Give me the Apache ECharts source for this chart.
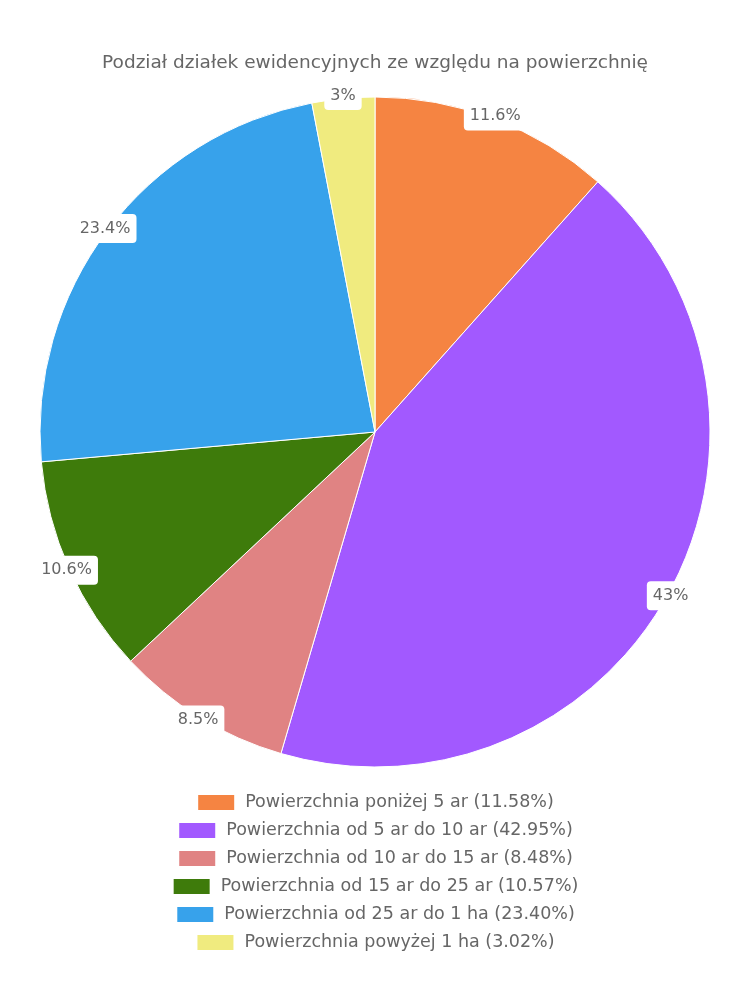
<!DOCTYPE html>
<html>
<head>
<meta charset="utf-8">
<script src="https://cdn.jsdelivr.net/npm/echarts@6/dist/echarts.min.js"></script>
<style>html,body{margin:0;padding:0;background:#fff}#c{width:750px;height:1000px}</style>
</head>
<body>
<div id="c"></div>
<script>
const title = 'Podział działek ewidencyjnych ze względu na powierzchnię';
const categories = [
  'Powierzchnia poniżej 5 ar',
  'Powierzchnia od 5 ar do 10 ar',
  'Powierzchnia od 10 ar do 15 ar',
  'Powierzchnia od 15 ar do 25 ar',
  'Powierzchnia od 25 ar do 1 ha',
  'Powierzchnia powyżej 1 ha'
];
const values = [11.58, 42.95, 8.48, 10.57, 23.40, 3.02];
const colors = ['#F58442', '#A259FF', '#E08383', '#3E7B0B', '#37A2EB', '#F0EB7F'];

const FONT = 'DejaVu Sans';
const total = values.reduce((a, b) => a + b, 0);
const data = categories.map((n, i) => ({ name: n, value: values[i], itemStyle: { color: colors[i] } }));

const legends = categories.map((n, i) => ({
  data: [n],
  left: 'center',
  top: 788 + 28 * i,
  orient: 'horizontal',
  icon: 'rect',
  itemWidth: 38,
  itemHeight: 17,
  itemGap: 0,
  textStyle: { fontFamily: FONT, fontSize: 17.5, color: '#666', padding: [0, 0, 0, 5] },
  formatter: name => name + ' (' + (values[categories.indexOf(name)] / total * 100).toFixed(2) + '%)'
}));

const chart = echarts.init(document.getElementById('c'), null, { renderer: 'canvas' });
chart.setOption({
  animation: false,
  title: {
    text: title,
    left: 'center',
    top: 49,
    textStyle: { fontFamily: FONT, fontSize: 18.5, fontWeight: 'normal', color: '#666' }
  },
  legend: legends,
  series: [
    {
      type: 'pie',
      center: [375, 432],
      radius: [0, 335],
      startAngle: 90,
      clockwise: true,
      data: data,
      label: { show: false },
      labelLine: { show: false },
      itemStyle: { borderColor: '#fff', borderWidth: 1 },
      emphasis: { disabled: true }
    },
    {
      type: 'pie',
      center: [375, 432],
      radius: [310, 360],
      startAngle: 90,
      clockwise: true,
      silent: true,
      z: 5,
      data: categories.map((n, i) => ({ name: n, value: values[i] })),
      itemStyle: { color: 'rgba(0,0,0,0)', borderWidth: 0 },
      emphasis: { disabled: true },
      labelLine: { show: false },
      label: {
        show: true,
        position: 'inside',
        fontFamily: FONT,
        fontSize: 16,
        color: '#666',
        backgroundColor: '#fff',
        borderRadius: 4,
        padding: [7, 6, 6, 6],
        formatter: p => String(Number(p.percent.toFixed(1))) + '%'
      }
    }
  ]
});
</script>
</body>
</html>
